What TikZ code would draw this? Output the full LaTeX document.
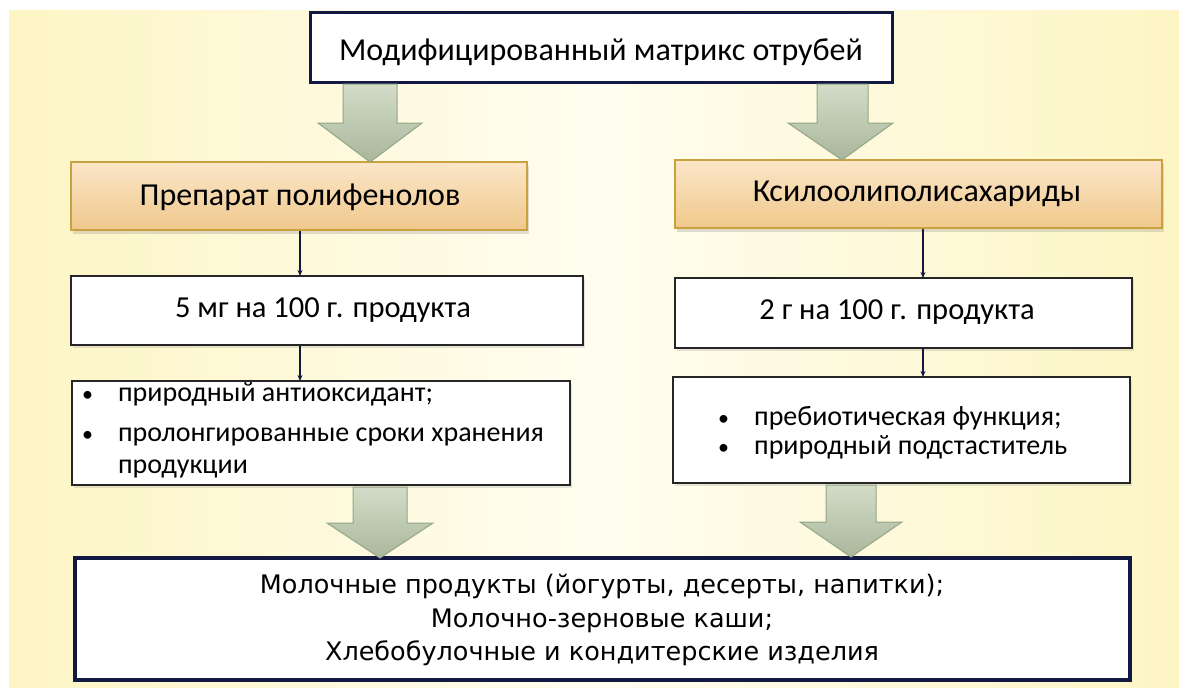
\documentclass[tikz,border=0pt]{standalone}
\usepackage{fontspec}
\setmainfont{Carlito}
\newfontfamily\vfont{DejaVu Sans}
\usetikzlibrary{shadows,arrows.meta}
\definecolor{bgY}{HTML}{FDF5C4}
\definecolor{bgW}{HTML}{FFFDF0}
\definecolor{navy}{HTML}{111842}
\definecolor{orT}{HTML}{FBE6C8}
\definecolor{orB}{HTML}{F0C88C}
\definecolor{orD}{HTML}{C9A13E}
\definecolor{arT}{HTML}{D3DCC8}
\definecolor{arB}{HTML}{A9B79B}
\definecolor{arD}{HTML}{95A587}
\newcommand{\smbul}{{\fontsize{22}{22}\selectfont\textbullet}}
\tikzset{
  navybox/.style={draw=navy, line width=3pt, fill=white},
  orangebox/.style={draw=orD, line width=1.5pt, top color=orT, bottom color=orB,
    drop shadow={opacity=0.25, shadow xshift=2pt, shadow yshift=-4pt}},
  whitebox/.style={draw=black!85, line width=1.3pt, fill=white,
    drop shadow={opacity=0.2, shadow xshift=2pt, shadow yshift=-3pt}},
  bigarrow/.style={draw=arD, line width=1pt, top color=arT, bottom color=arB, line join=miter},
  thinarrow/.style={draw=navy, line width=1.2pt, -{Stealth[length=6pt,width=5pt]}},
  txt/.style={inner sep=0pt, text=black}
}
\begin{document}
\begin{tikzpicture}[x=1pt,y=-1pt]
\useasboundingbox (0,0) rectangle (1179,688);
% background
\shade[left color=bgY, right color=bgY, middle color=bgW] (9,10) rectangle (1179,688);

% boxes
\draw[navybox] (310,12) rectangle (892,82);
\node[txt, font=\fontsize{32}{38}\selectfont] (title) at (601,52) {Модифицированный матрикс отрубей};

\path[orangebox] (71,162) rectangle (527,230);
\node[txt, font=\fontsize{32}{38}\selectfont] (prepL) at (300,197) {Препарат полифенолов};
\path[orangebox] (675,160) rectangle (1162,228);
\node[txt, font=\fontsize{32}{38}\selectfont] (prepR) at (917,194) {Ксилоолиполисахариды};

\path[whitebox] (71,276) rectangle (583,345);
\node[txt, font=\fontsize{30.5}{34}\selectfont] (doseL) at (323,310) {5 мг на 100 г. продукта};
\path[whitebox] (675,278) rectangle (1132,348);
\node[txt, font=\fontsize{30.5}{34}\selectfont] (doseR) at (897,312) {2 г на 100 г. продукта};

\path[whitebox] (72,381) rectangle (570,485);
\node[txt, anchor=north west, align=left, font=\fontsize{28}{32}\selectfont] (propL) at (82,379)
  {\begin{tabular}{@{}l@{\hspace{25pt}}l@{}}\smbul & природный антиоксидант;\\[8pt]
   \smbul & пролонгированные сроки хранения\\ & продукции\end{tabular}};
\path[whitebox] (673,377) rectangle (1130,483);
\node[txt, anchor=north west, align=left, font=\fontsize{28}{29}\selectfont] (propR) at (718,405)
  {\begin{tabular}{@{}l@{\hspace{25pt}}l@{}}\smbul & пребиотическая функция;\\
   \smbul & природный подстаститель\end{tabular}};

\draw[navybox, line width=3.5pt] (75,558) rectangle (1130,680);
\node[txt, align=center, font=\vfont\fontsize{25.5}{33.5}\selectfont] (use) at (602,620)
  {Молочные продукты (йогурты, десерты, напитки);\\Молочно-зерновые каши;\\Хлебобулочные и кондитерские изделия};

% big arrows
\path[bigarrow] (343,84) -- (397,84) -- (397,123) -- (422,123) -- (370,162) -- (318,123) -- (343,123) -- cycle;
\path[bigarrow] (817,84) -- (868,84) -- (868,123) -- (893,123) -- (842,160) -- (788,123) -- (817,123) -- cycle;
\path[bigarrow] (353,487) -- (407,487) -- (407,523) -- (433,523) -- (380,558) -- (327,523) -- (353,523) -- cycle;
\path[bigarrow] (826,485) -- (876,485) -- (876,522) -- (902,522) -- (851,557) -- (800,522) -- (826,522) -- cycle;

% thin arrows
\coordinate (a1) at (300,231); \coordinate (a1e) at (300,276);
\coordinate (a2) at (300,346); \coordinate (a2e) at (300,381);
\coordinate (b1) at (923,229); \coordinate (b1e) at (923,278);
\coordinate (b2) at (923,349); \coordinate (b2e) at (923,377);
\draw[thinarrow] (a1) -- (a1e);
\draw[thinarrow] (a2) -- (a2e);
\draw[thinarrow] (b1) -- (b1e);
\draw[thinarrow] (b2) -- (b2e);
\end{tikzpicture}
\end{document}
